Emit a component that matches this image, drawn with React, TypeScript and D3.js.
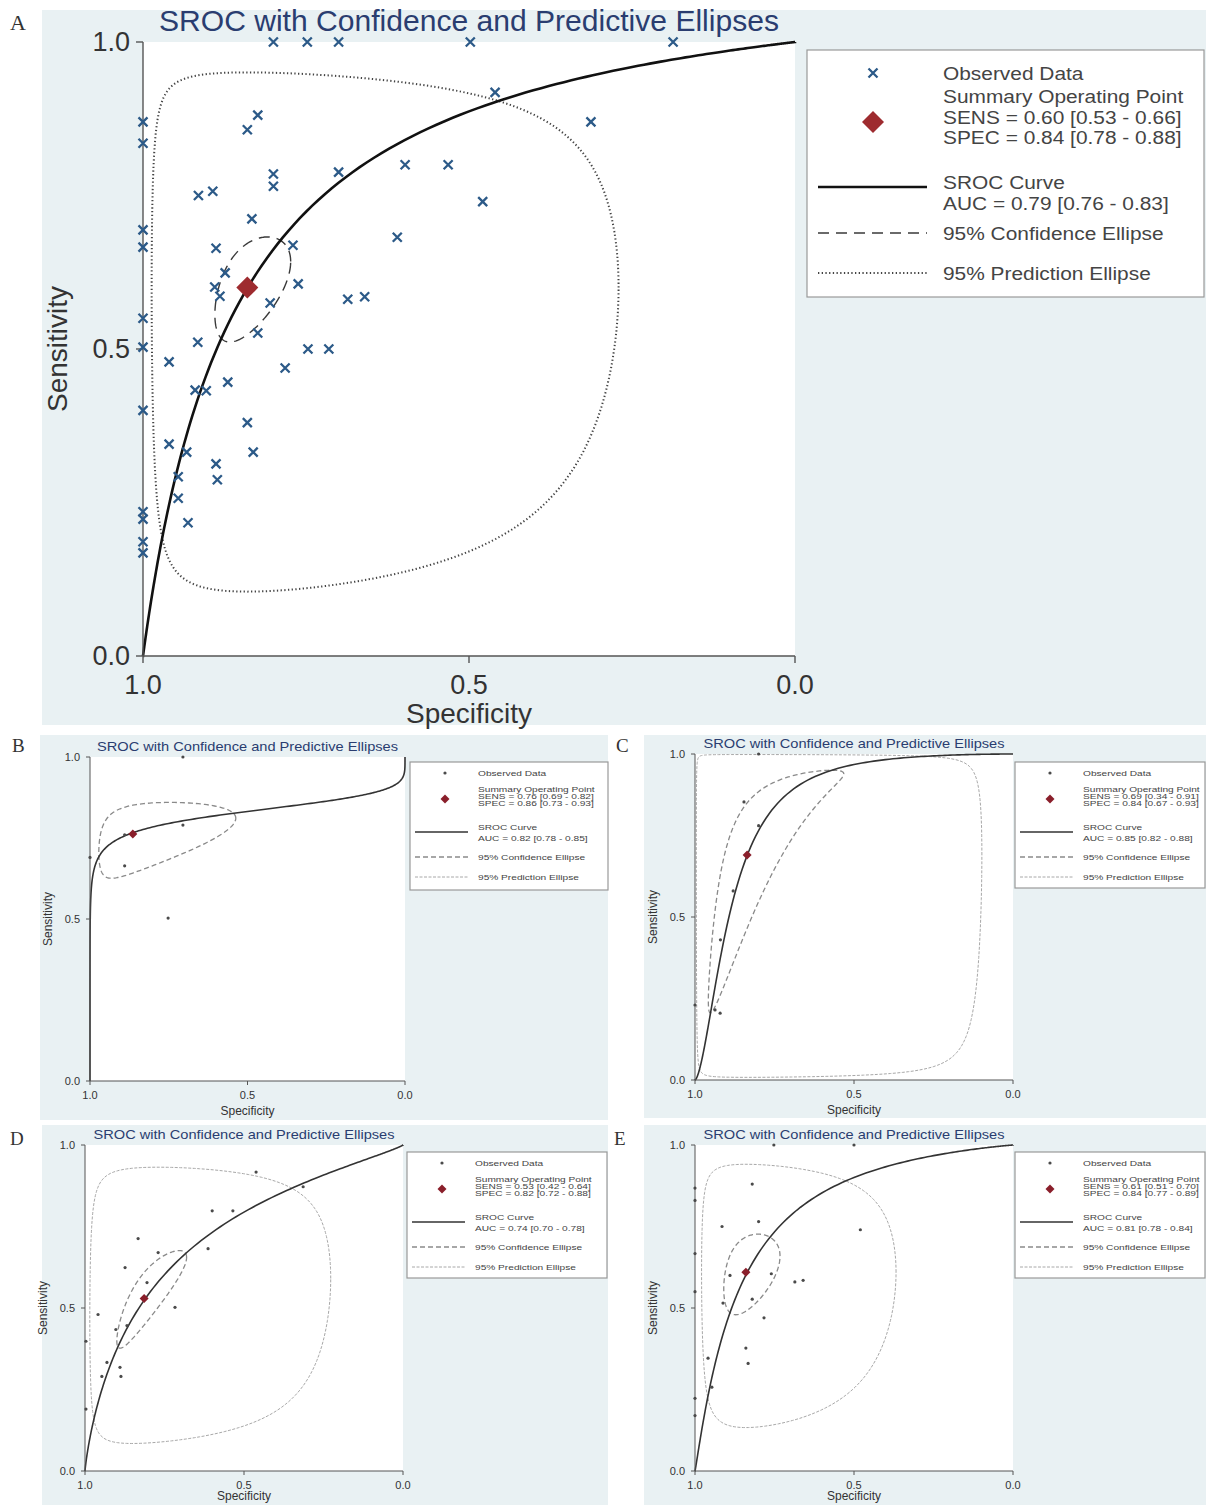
import React from 'react';
import * as d3 from 'd3';

type Pt = [number, number]; // [specificity, sensitivity]

// ---------- panel A ----------
const obsA: Pt[] = [
  [0.80, 1.0], [0.748, 1.0], [0.70, 1.0], [0.498, 1.0], [0.187, 1.0],
  [0.46, 0.918], [0.313, 0.87], [0.824, 0.881], [0.84, 0.857],
  [1.0, 0.87], [1.0, 0.835], [0.598, 0.80], [0.532, 0.80],
  [0.70, 0.788], [0.80, 0.785], [0.80, 0.765], [0.915, 0.75], [0.893, 0.757],
  [0.479, 0.74], [0.833, 0.712], [1.0, 0.694], [1.0, 0.666],
  [0.888, 0.664], [0.77, 0.669], [0.61, 0.682],
  [0.874, 0.624], [0.89, 0.601], [0.882, 0.586], [0.762, 0.606], [0.805, 0.575],
  [0.686, 0.581], [0.66, 0.585], [1.0, 0.55], [0.824, 0.526], [0.916, 0.511],
  [1.0, 0.503], [0.747, 0.5], [0.715, 0.5],
  [0.96, 0.479], [0.782, 0.469], [0.87, 0.446], [0.92, 0.433], [0.903, 0.432],
  [1.0, 0.40], [0.84, 0.38], [0.96, 0.345], [0.933, 0.332], [0.831, 0.332],
  [0.888, 0.313], [0.946, 0.292], [0.886, 0.287], [0.946, 0.257],
  [1.0, 0.235], [1.0, 0.223], [0.931, 0.217], [1.0, 0.186], [1.0, 0.168],
];
const summaryA: Pt = [0.84, 0.60];
const srocA = { alpha: 2.06, beta: 1.0 };
const confA = { sx: 0.43, sy: 0.36, r: 0.5 };
const predA = { sx: 2.65, sy: 2.55, r: 0 };
const textA = ['SENS = 0.60 [0.53 - 0.66]', 'SPEC = 0.84 [0.78 - 0.88]', 'AUC = 0.79 [0.76 - 0.83]'];

// ---------- panel B ----------
const obsB: Pt[] = [[0.705, 1.0], [1.0, 0.69], [0.89, 0.76], [0.89, 0.664], [0.705, 0.79], [0.752, 0.503]];
const summaryB: Pt = [0.864, 0.762];
const srocB = { alpha: 1.6, beta: 0.223 };
const confB = { sx: 1.7, sy: 0.65, r: 0.45 };
const textB = ['SENS = 0.76 [0.69 - 0.82]', 'SPEC = 0.86 [0.73 - 0.93]', 'AUC = 0.82 [0.78 - 0.85]'];

// ---------- panel C ----------
const obsC: Pt[] = [[0.80, 1.0], [0.846, 0.853], [0.80, 0.78], [0.88, 0.58], [0.92, 0.43], [1.0, 0.23], [0.937, 0.215], [0.921, 0.205]];
const summaryC: Pt = [0.836, 0.69];
const srocC = { alpha: 3.4, beta: 1.6 };
const confC = { sx: 1.5, sy: 2.15, r: 0.9 };
const predC = { sx: 3.85, sy: 5.6, r: 0 };
const textC = ['SENS = 0.69 [0.34 - 0.91]', 'SPEC = 0.84 [0.67 - 0.93]', 'AUC = 0.85 [0.82 - 0.88]'];

// ---------- panel D ----------
const obsD: Pt[] = [
  [0.462, 0.917], [0.314, 0.872], [0.60, 0.798], [0.535, 0.798], [0.833, 0.713],
  [0.613, 0.682], [0.77, 0.67], [0.874, 0.624], [0.805, 0.578], [0.717, 0.502],
  [0.959, 0.48], [0.997, 0.398], [0.903, 0.434], [0.868, 0.446], [0.931, 0.333],
  [0.947, 0.29], [0.89, 0.318], [0.887, 0.29], [0.997, 0.19],
];
const summaryD: Pt = [0.814, 0.529];
const srocD = { alpha: 1.35, beta: 0.85 };
const confD = { sx: 0.72, sy: 0.62, r: 0.85 };
const predD = { sx: 2.7, sy: 2.5, r: 0.1 };
const textD = ['SENS = 0.53 [0.42 - 0.64]', 'SPEC = 0.82 [0.72 - 0.88]', 'AUC = 0.74 [0.70 - 0.78]'];

// ---------- panel E ----------
const obsE: Pt[] = [
  [0.752, 1.0], [0.50, 1.0], [1.0, 0.868], [1.0, 0.83], [0.82, 0.88], [0.915, 0.75],
  [0.80, 0.765], [0.48, 0.74], [1.0, 0.667], [0.89, 0.60], [0.76, 0.605], [0.686, 0.58],
  [0.66, 0.585], [1.0, 0.55], [0.912, 0.515], [0.82, 0.527], [0.783, 0.47], [0.84, 0.377],
  [0.833, 0.33], [0.959, 0.346], [0.947, 0.257], [1.0, 0.223], [1.0, 0.17],
];
const summaryE: Pt = [0.84, 0.61];
const srocE = { alpha: 2.2, beta: 1.08 };
const confE = { sx: 0.65, sy: 0.53, r: 0.4 };
const predE = { sx: 2.2, sy: 2.32, r: 0 };
const textE = ['SENS = 0.61 [0.51 - 0.70]', 'SPEC = 0.84 [0.77 - 0.89]', 'AUC = 0.81 [0.78 - 0.84]'];

const TITLE = 'SROC with Confidence and Predictive Ellipses';

const logit = (p: number) => Math.log(p / (1 - p));
const expit = (v: number) => 1 / (1 + Math.exp(-v));

// HSROC curve: logit(sens) = alpha + beta * logit(1 - spec)
const srocCurve = (p: { alpha: number; beta: number }): Pt[] => {
  const pts: Pt[] = [[1, 0]];
  d3.range(-30, 30.001, 0.05).forEach((lx) => pts.push([1 - expit(lx), expit(p.alpha + p.beta * lx)]));
  pts.push([0, 1]);
  return pts;
};

// ellipse in logit space, back-transformed to ROC space
const ellipse = (c: Pt, e: { sx: number; sy: number; r: number }): Pt[] => {
  const mx = logit(1 - c[0]);
  const my = logit(c[1]);
  const k = Math.sqrt(1 - e.r * e.r);
  return d3.range(0, 360, 1.5).map((deg) => {
    const t = (deg * Math.PI) / 180;
    const lx = mx + e.sx * Math.cos(t);
    const ly = my + e.sy * (e.r * Math.cos(t) + k * Math.sin(t));
    return [1 - expit(lx), expit(ly)] as Pt;
  });
};

const BIG = {
  title: 30, tick: 27, axisLab: 28, tickLen: 7, tickGapY: 13, tickY: 29, labY: 67, labX: -76, titleDy: -11,
  legendFont: 18.5, legendScale: 1.13, markerX: 66, textX: 136, lineX0: 11, lineX1: 120,
  obs: 23, sum: [46.5, 67, 87.5], sumMarker: 72, curveLine: 137, curveText: [132, 153], conf: 183, pred: 223,
  curveW: 2.6, axisW: 1.4,
};
const SMALL = {
  title: 13, tick: 11, axisLab: 12, tickLen: 4, tickGapY: 10, tickY: 14, labY: 34, labX: -38, titleDy: -6,
  legendFont: 8, legendScale: 1.27, markerX: 35, textX: 68, lineX0: 5, lineX1: 58,
  obs: 11, sum: [27, 34, 41], sumMarker: 37, curveLine: 70, curveText: [65, 76], conf: 95, pred: 115,
  curveW: 1.6, axisW: 1,
};

type PanelProps = {
  id: string; big: boolean; bg: number[]; plot: number[]; legend: number[]; letter: number[]; labY?: number;
  obs: Pt[]; summary: Pt; sroc: { alpha: number; beta: number };
  conf: { sx: number; sy: number; r: number }; pred: { sx: number; sy: number; r: number } | null;
  text: string[];
};

const Panel = (p: PanelProps) => {
  const s = p.big ? BIG : SMALL;
  const [x0, x1, y0, y1] = p.plot;
  const x = d3.scaleLinear().domain([1, 0]).range([x0, x1]);
  const y = d3.scaleLinear().domain([0, 1]).range([y1, y0]);
  const line = d3.line<Pt>().x((d) => x(d[0])).y((d) => y(d[1]));
  const closed = d3.line<Pt>().x((d) => x(d[0])).y((d) => y(d[1])).curve(d3.curveLinearClosed);
  const ticks = x.ticks(2);
  const fmt = d3.format('.1f');
  const [lx, ly, lw, lh] = p.legend;
  const labY = p.labY ?? s.labY;

  const confStyle = p.big
    ? { stroke: '#3a3a3a', strokeWidth: 1.4, strokeDasharray: '11,7' }
    : { stroke: '#8a8a8a', strokeWidth: 1.3, strokeDasharray: '5,3' };
  const predStyle = p.big
    ? { stroke: '#444', strokeWidth: 2, strokeDasharray: '1.3,2.4' }
    : { stroke: '#a8a8a8', strokeWidth: 1, strokeDasharray: '3,1.5' };
  const curveColor = p.big ? '#111' : '#333';
  const red = p.big ? '#9e2b2f' : '#8a1f2b';
  const dsz = p.big ? 11 : 4.5;
  const diamond = (cx: number, cy: number) => `M${cx},${cy - dsz}L${cx + dsz},${cy}L${cx},${cy + dsz}L${cx - dsz},${cy}Z`;

  const obsMark = (cx: number, cy: number, k: number) =>
    p.big ? (
      <path key={k} d={`M${cx - 4.5},${cy - 4.5}L${cx + 4.5},${cy + 4.5}M${cx - 4.5},${cy + 4.5}L${cx + 4.5},${cy - 4.5}`}
        stroke="#2c5a88" strokeWidth={2.3} />
    ) : (
      <circle key={k} cx={cx} cy={cy} r={1.6} fill="#4a4a4a" />
    );

  const legendText = (str: string, ty: number, k: string) => (
    <g key={k} transform={`translate(${lx + s.textX},${ly + ty}) scale(${s.legendScale},1)`}>
      <text x={0} y={0} dominantBaseline="central" fontSize={s.legendFont} fill="#444">{str}</text>
    </g>
  );

  return (
    <g>
      <rect x={p.bg[0]} y={p.bg[1]} width={p.bg[2]} height={p.bg[3]} fill="#e9f1f3" />
      <rect x={x0} y={y0} width={x1 - x0} height={y1 - y0} fill="#fff" />
      <defs>
        <clipPath id={`clip-${p.id}`}>
          <rect x={x0 - 2} y={y0 - 2} width={x1 - x0 + 4} height={y1 - y0 + 4} />
        </clipPath>
      </defs>
      <text x={p.letter[0]} y={p.letter[1]} fontFamily="'Liberation Serif', 'DejaVu Serif', serif" fontSize={p.big ? 22 : 19} fill="#333">{p.id}</text>
      <text x={(x0 + x1) / 2} y={y0 + s.titleDy} textAnchor="middle" fontSize={s.title} fill="#2a3d70"
        textLength={p.big ? 620 : 301} lengthAdjust="spacingAndGlyphs">{TITLE}</text>

      <g clipPath={`url(#clip-${p.id})`} fill="none">
        {p.pred && <path d={closed(ellipse(p.summary, p.pred)) || ''} {...predStyle} />}
        <path d={closed(ellipse(p.summary, p.conf)) || ''} {...confStyle} />
        <path d={line(srocCurve(p.sroc)) || ''} stroke={curveColor} strokeWidth={s.curveW} />
      </g>

      {/* axes */}
      <g stroke="#555" strokeWidth={s.axisW}>
        <line x1={x0} x2={x0} y1={y0} y2={y1} />
        <line x1={x0} x2={x1} y1={y1} y2={y1} />
        {ticks.map((t) => <line key={`yt${t}`} x1={x0 - s.tickLen} x2={x0} y1={y(t)} y2={y(t)} />)}
        {ticks.map((t) => <line key={`xt${t}`} x1={x(t)} x2={x(t)} y1={y1} y2={y1 + s.tickLen} />)}
      </g>
      <g fontSize={s.tick} fill="#333">
        {ticks.map((t) => (
          <text key={`yl${t}`} x={x0 - s.tickGapY} y={y(t)} textAnchor="end" dominantBaseline="central">{fmt(t)}</text>
        ))}
        {ticks.map((t) => (
          <text key={`xl${t}`} x={x(t)} y={y1 + s.tickY} textAnchor="middle" dominantBaseline="central">{fmt(t)}</text>
        ))}
      </g>
      <text x={(x0 + x1) / 2} y={y1 + labY} textAnchor="middle" fontSize={s.axisLab} fill="#333">Specificity</text>
      <text transform={`translate(${x0 + s.labX},${(y0 + y1) / 2}) rotate(-90)`} textAnchor="middle" fontSize={s.axisLab} fill="#333">Sensitivity</text>

      {/* marks */}
      {p.obs.map((d, i) => obsMark(x(d[0]), y(d[1]), i))}
      <path d={diamond(x(p.summary[0]), y(p.summary[1]))} fill={red} />

      {/* legend */}
      <rect x={lx} y={ly} width={lw} height={lh} fill="#fff" stroke="#999" strokeWidth={1.2} />
      {obsMark(lx + s.markerX, ly + s.obs, -1)}
      {legendText('Observed Data', s.obs, 'l0')}
      <path d={diamond(lx + s.markerX, ly + s.sumMarker)} fill={red} />
      {legendText('Summary Operating Point', s.sum[0], 'l1')}
      {legendText(p.text[0], s.sum[1], 'l2')}
      {legendText(p.text[1], s.sum[2], 'l3')}
      <line x1={lx + s.lineX0} x2={lx + s.lineX1} y1={ly + s.curveLine} y2={ly + s.curveLine} stroke={curveColor} strokeWidth={s.curveW} />
      {legendText('SROC Curve', s.curveText[0], 'l4')}
      {legendText(p.text[2], s.curveText[1], 'l5')}
      <line x1={lx + s.lineX0} x2={lx + s.lineX1} y1={ly + s.conf} y2={ly + s.conf} {...confStyle} />
      {legendText('95% Confidence Ellipse', s.conf, 'l6')}
      <line x1={lx + s.lineX0} x2={lx + s.lineX1} y1={ly + s.pred} y2={ly + s.pred} {...predStyle} />
      {legendText('95% Prediction Ellipse', s.pred, 'l7')}
    </g>
  );
};

const PANELS: PanelProps[] = [
  { id: 'A', big: true, bg: [42, 10, 1164, 715], plot: [143, 795, 42, 656], legend: [807, 50, 397, 247], letter: [10, 30],
    obs: obsA, summary: summaryA, sroc: srocA, conf: confA, pred: predA, text: textA },
  { id: 'B', big: false, bg: [40, 735, 568, 385], plot: [90, 405, 757, 1081], legend: [410, 762, 198, 128], letter: [12, 752],
    obs: obsB, summary: summaryB, sroc: srocB, conf: confB, pred: null, text: textB },
  { id: 'C', big: false, bg: [644, 735, 562, 383], plot: [695, 1013, 754, 1080], legend: [1015, 762, 190, 126], letter: [616, 752],
    obs: obsC, summary: summaryC, sroc: srocC, conf: confC, pred: predC, text: textC },
  { id: 'D', big: false, bg: [42, 1125, 566, 380], plot: [85, 403, 1145, 1471], legend: [407, 1152, 200, 126], letter: [10, 1145], labY: 29,
    obs: obsD, summary: summaryD, sroc: srocD, conf: confD, pred: predD, text: textD },
  { id: 'E', big: false, bg: [644, 1125, 562, 380], plot: [695, 1013, 1145, 1471], legend: [1015, 1152, 190, 126], letter: [614, 1145], labY: 29,
    obs: obsE, summary: summaryE, sroc: srocE, conf: confE, pred: predE, text: textE },
];

export default function App() {
  return (
    <svg width={1206} height={1505} style={{ position: 'absolute', left: 0, top: 0, background: '#fff' }}
      fontFamily="'Liberation Sans', Arial, sans-serif">
      {PANELS.map((p) => <Panel key={p.id} {...p} />)}
    </svg>
  );
}
